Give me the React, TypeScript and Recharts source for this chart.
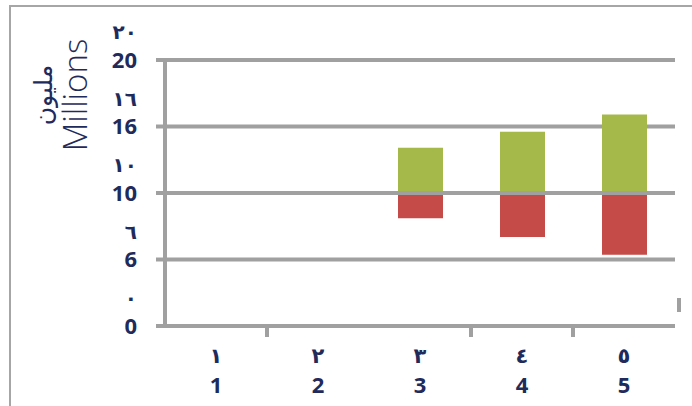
import React from "react";
import {
  BarChart,
  Bar,
  XAxis,
  YAxis,
  CartesianGrid,
  ReferenceLine,
  Label,
} from "recharts";

const categories = ["1", "2", "3", "4", "5"];
const categoriesAr = ["١", "٢", "٣", "٤", "٥"];
const baseLevel = 10;
const gainTop: (number | null)[] = [null, null, 13.4, 14.6, 15.9];
const lossBottom: (number | null)[] = [null, null, 8.1, 6.7, 5.35];
const yTickValues = [0, 5, 10, 15, 20];
const yTickLabels = ["0", "6", "10", "16", "20"];
const yTickLabelsAr = ["٠", "٦", "١٠", "١٦", "٢٠"];

const NAVY = "#1F2B5B";
const GRID = "#A0A0A0";
const GREEN = "#A5B94B";
const RED = "#C44B47";
const FONT = "'Open Sans', 'DejaVu Sans', sans-serif";

const data = categories.map((c, i) => ({
  name: c,
  ar: categoriesAr[i],
  gain: gainTop[i] == null ? null : [baseLevel, gainTop[i]],
  loss: lossBottom[i] == null ? null : [lossBottom[i], baseLevel],
}));

function YTick(props: any) {
  const { x, y, index } = props;
  return (
    <g>
      <line x1={x - 9} x2={x} y1={y} y2={y} stroke={GRID} strokeWidth={4} />
      <text
        x={x - 28}
        y={y}
        dy="0.36em"
        textAnchor="end"
        fill={NAVY}
        fontSize={22}
        fontWeight={700}
        fontFamily={FONT}
      >
        {yTickLabels[index]}
      </text>
      <text
        x={x - 28}
        y={y - 28}
        dy="0.36em"
        textAnchor="end"
        fill={NAVY}
        fontSize={20}
        fontWeight={700}
        fontFamily={FONT}
      >
        {yTickLabelsAr[index]}
      </text>
    </g>
  );
}

function XTick(props: any) {
  const { x, y, index } = props;
  const showMark = index !== 0 && index !== 2;
  return (
    <g>
      {showMark && (
        <line x1={x - 51} x2={x - 51} y1={y} y2={y + 11} stroke={GRID} strokeWidth={4} />
      )}
      <text
        x={x}
        y={y + 29}
        dy="0.36em"
        textAnchor="middle"
        fill={NAVY}
        fontSize={21}
        fontWeight={700}
        fontFamily={FONT}
      >
        {categoriesAr[index]}
      </text>
      <text
        x={x}
        y={y + 59}
        dy="0.36em"
        textAnchor="middle"
        fill={NAVY}
        fontSize={22}
        fontWeight={700}
        fontFamily={FONT}
      >
        {categories[index]}
      </text>
    </g>
  );
}

function AxisTitle() {
  return (
    <g>
      <text
        transform="translate(75,95) rotate(-90)"
        textAnchor="middle"
        dy="0.36em"
        fill={NAVY}
        fontSize={33}
        fontWeight={300}
        fontFamily={FONT}
      >
        Millions
      </text>
      <text
        transform="translate(43,95) rotate(-90)"
        textAnchor="middle"
        dy="0.36em"
        fill={NAVY}
        fontSize={25}
        fontFamily={FONT}
      >
        مليون
      </text>
    </g>
  );
}

export default function App() {
  return (
    <div
      style={{
        position: "absolute",
        left: 0,
        top: 0,
        width: 692,
        height: 406,
        background: "#fff",
        fontFamily: FONT,
        overflow: "hidden",
      }}
    >
      <div
        style={{
          position: "absolute",
          left: 9,
          top: 5,
          width: 690,
          height: 410,
          borderTop: "2px solid #A6A6A6",
          borderLeft: "2px solid #A6A6A6",
        }}
      />
      <div
        style={{
          position: "absolute",
          left: 677,
          top: 298,
          width: 4,
          height: 14,
          background: GRID,
        }}
      />
      <div style={{ position: "absolute", left: 0, top: 0 }}>
        <BarChart
          width={692}
          height={406}
          data={data}
          margin={{ top: 60, right: 17, bottom: 0, left: 0 }}
          barSize={45}
          barGap={-45}
        >
          <CartesianGrid vertical={false} stroke={GRID} strokeWidth={4} />
          <XAxis
            dataKey="name"
            height={80}
            tickSize={0}
            tickMargin={0}
            tickLine={false}
            axisLine={{ stroke: GRID, strokeWidth: 4 }}
            tick={<XTick />}
            interval={0}
          />
          <YAxis
            width={165}
            domain={[0, 20]}
            ticks={yTickValues}
            interval={0}
            tickSize={0}
            tickMargin={0}
            tickLine={false}
            axisLine={{ stroke: GRID, strokeWidth: 4 }}
            tick={<YTick />}
          >
            <Label content={<AxisTitle />} />
          </YAxis>
          <Bar dataKey="gain" fill={GREEN} isAnimationActive={false} />
          <Bar dataKey="loss" fill={RED} isAnimationActive={false} />
          <ReferenceLine y={baseLevel} stroke={GRID} strokeWidth={4} />
        </BarChart>
      </div>
    </div>
  );
}
